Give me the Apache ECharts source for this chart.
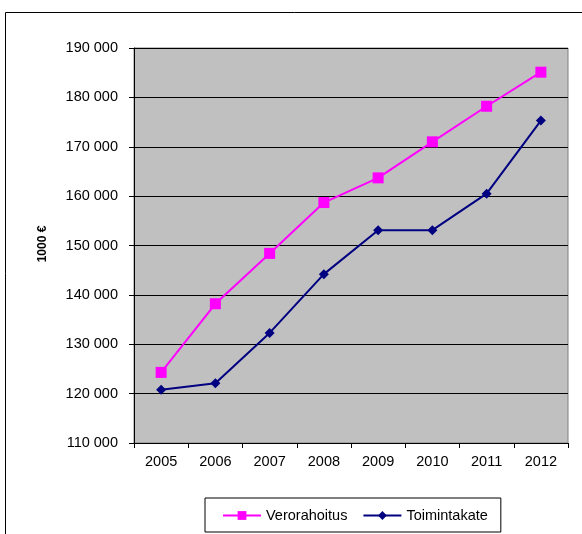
<!DOCTYPE html>
<html>
<head>
<meta charset="utf-8">
<script src="https://cdn.jsdelivr.net/npm/echarts@6/dist/echarts.min.js"></script>
<style>
  html, body { margin: 0; padding: 0; background: #fff; }
  #chart { width: 582px; height: 534px; }
</style>
</head>
<body>
<div id="chart"></div>
<script>
var years = ["2005", "2006", "2007", "2008", "2009", "2010", "2011", "2012"];
var verorahoitus = [124300, 138200, 148400, 158700, 163700, 171000, 178200, 185100];
var toimintakate = [120800, 122100, 132300, 144200, 153100, 153100, 160500, 175300];
var yMin = 110000, yMax = 190000, yStep = 10000;

var chart = echarts.init(document.getElementById("chart"));
var option = {
  animation: false,
  textStyle: { fontFamily: "Liberation Sans, Arial, sans-serif" },
  graphic: [
    {
      // outer frame, cut off at the bottom and right
      type: "rect",
      shape: { x: 5.5, y: 12.5, width: 600, height: 600 },
      style: { fill: null, stroke: "#000", lineWidth: 1 },
      silent: true
    },
    {
      type: "text",
      x: 43, y: 244,
      rotation: Math.PI / 2,
      style: {
        text: "1000 €",
        font: "bold 12px Liberation Sans, Arial, sans-serif",
        fill: "#000",
        align: "center",
        verticalAlign: "middle"
      }
    }
  ],
  grid: {
    left: 134, top: 48, right: 14, bottom: 91,
    show: true,
    backgroundColor: "#c0c0c0",
    borderColor: "#808080",
    borderWidth: 1
  },
  legend: {
    left: 205, top: 498,
    padding: [10, 13, 9, 17],
    itemGap: 15,
    itemWidth: 38,
    itemHeight: 11,
    borderColor: "#000",
    borderWidth: 1,
    backgroundColor: "#fff",
    textStyle: { fontSize: 14.5, color: "#000" },
    data: ["Verorahoitus", "Toimintakate"]
  },
  xAxis: {
    type: "category",
    data: years,
    boundaryGap: true,
    axisLine: { lineStyle: { color: "#000", width: 1 } },
    axisTick: { show: true, length: 5, lineStyle: { color: "#000" } },
    axisLabel: { color: "#000", fontSize: 14.5, margin: 11 },
    splitLine: { show: false }
  },
  yAxis: {
    type: "value",
    min: yMin, max: yMax, interval: yStep,
    axisLine: { show: true, lineStyle: { color: "#000", width: 1 } },
    axisTick: { show: true, length: 5, lineStyle: { color: "#000" } },
    axisLabel: {
      color: "#000", fontSize: 14.5, margin: 16,
      formatter: function (v) {
        return String(v).replace(/\B(?=(\d{3})+(?!\d))/g, " ");
      }
    },
    splitLine: { show: true, lineStyle: { color: "#000", width: 1 } }
  },
  series: [
    {
      name: "Verorahoitus",
      type: "line",
      data: verorahoitus,
      symbol: "rect",
      symbolSize: 11,
      lineStyle: { color: "#ff00ff", width: 2 },
      itemStyle: { color: "#ff00ff" }
    },
    {
      name: "Toimintakate",
      type: "line",
      data: toimintakate,
      symbol: "diamond",
      symbolSize: 10,
      lineStyle: { color: "#000080", width: 2 },
      itemStyle: { color: "#000080" }
    }
  ]
};
chart.setOption(option);
</script>
</body>
</html>
